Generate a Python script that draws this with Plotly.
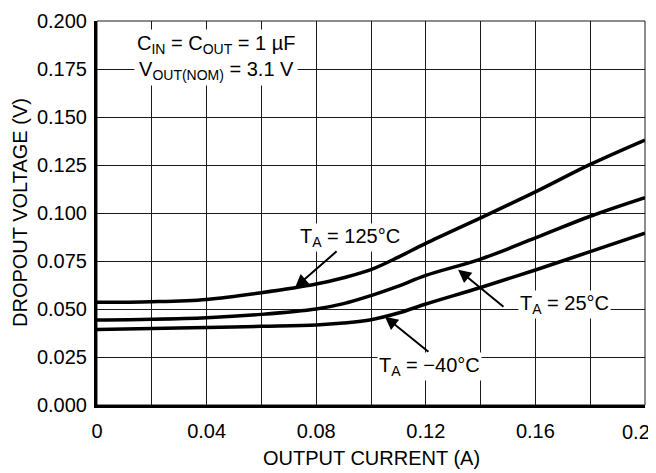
import plotly.graph_objects as go

# ---- data ----
current = [0.0, 0.02, 0.04, 0.06, 0.08, 0.09, 0.10, 0.11, 0.12, 0.14, 0.16, 0.18, 0.20]
v_125 = [0.0535, 0.0538, 0.0550, 0.0585, 0.0630, 0.0663, 0.0705, 0.0770, 0.0842, 0.0975, 0.1110, 0.1253, 0.1380]
v_25 = [0.0443, 0.0447, 0.0455, 0.0472, 0.0500, 0.0528, 0.0570, 0.0619, 0.0675, 0.0760, 0.0870, 0.0983, 0.1080]
v_m40 = [0.0393, 0.0398, 0.0404, 0.0410, 0.0417, 0.0427, 0.0444, 0.0479, 0.0526, 0.0612, 0.0703, 0.0799, 0.0895]

x_tickvals = [0.0, 0.04, 0.08, 0.12, 0.16, 0.20]
x_ticktext = ["0", "0.04", "0.08", "0.12", "0.16", "0.2"]
x_gridvals = [0.02, 0.06, 0.10, 0.14, 0.18]
y_tickvals = [0.0, 0.025, 0.05, 0.075, 0.1, 0.125, 0.15, 0.175, 0.2]
y_ticktext = ["0.000", "0.025", "0.050", "0.075", "0.100", "0.125", "0.150", "0.175", "0.200"]

FONT = "Liberation Sans, Arial, Helvetica, sans-serif"
FS = 20
GRID = "#1a1a1a"

fig = go.Figure()
for ys in (v_125, v_25, v_m40):
    fig.add_trace(go.Scatter(x=current, y=ys, mode="lines",
                             line=dict(color="black", width=3.5, shape="spline", smoothing=1.0),
                             showlegend=False, hoverinfo="skip"))

# the page body has an 8px margin, so the figure is sized/placed to compensate
fig.update_layout(
    width=648, height=465,
    margin=dict(l=89, r=11, t=13, b=68, autoexpand=False),
    paper_bgcolor="white", plot_bgcolor="white",
    font=dict(family=FONT, size=FS, color="black"),
    xaxis=dict(range=[0, 0.2], tickvals=x_tickvals[:-1], ticktext=x_ticktext[:-1],
               showgrid=True, gridcolor=GRID, gridwidth=1, automargin=False,
               minor=dict(tickvals=x_gridvals, showgrid=True, gridcolor=GRID, gridwidth=1, ticks=""),
               zeroline=False, showline=True, linecolor="black", linewidth=3,
               ticks="outside", ticklen=0, ticklabelstandoff=6,
               tickfont=dict(size=FS, family=FONT)),
    yaxis=dict(range=[0, 0.2], tickvals=y_tickvals, ticktext=y_ticktext,
               showgrid=True, gridcolor=GRID, gridwidth=1, automargin=False,
               zeroline=False, showline=True, linecolor="black", linewidth=3,
               ticks="outside", ticklen=0, ticklabelstandoff=3,
               tickfont=dict(size=FS, family=FONT)),
)

# thin frame on top/right
fig.add_shape(type="rect", xref="paper", yref="paper", x0=0, y0=0, x1=1, y1=1,
              line=dict(color=GRID, width=1), layer="below")

ann = []
# last x tick label, nudged left so it is not clipped at the page edge
ann.append(dict(text=x_ticktext[-1], x=x_tickvals[-1], y=0, xref="x", yref="paper",
                xanchor="center", yanchor="top", xshift=-9, yshift=-14,
                showarrow=False, font=dict(size=FS)))
# axis titles
ann.append(dict(text="OUTPUT CURRENT (A)", xref="paper", yref="paper", x=0.5, y=0,
                yanchor="middle", xanchor="center", yshift=-53, showarrow=False,
                font=dict(size=FS)))
ann.append(dict(text="DROPOUT VOLTAGE (V)", xref="paper", yref="paper", x=0, y=0.5,
                xanchor="center", yanchor="middle", xshift=-77, textangle=-90,
                showarrow=False, font=dict(size=FS)))
# condition box
ann.append(dict(text="C<sub>IN</sub> = C<sub>OUT</sub> = 1 \u00b5F<br>V<sub>OUT(NOM)</sub> = 3.1 V",
                x=0.0434, y=0.181, xref="x", yref="y", showarrow=False,
                bgcolor="white", borderpad=2, align="center", font=dict(size=FS)))
# curve labels
labels = [
    ("T<sub>A</sub> = 125\u00b0C", 0.0923, 0.0870),
    ("T<sub>A</sub> = 25\u00b0C", 0.1708, 0.0521),
    ("T<sub>A</sub> = \u221240\u00b0C", 0.1215, 0.0198),
]
for t, x, y in labels:
    ann.append(dict(text=t, x=x, y=y, xref="x", yref="y", showarrow=False,
                    bgcolor="white", borderpad=1, font=dict(size=FS)))
# arrows (head on curve, tail near label)
arrows = [
    (0.0723, 0.0612, 0.0880, 0.0807),
    (0.1318, 0.0705, 0.1489, 0.0505),
    (0.1051, 0.0460, 0.1215, 0.0271),
]
for hx, hy, tx, ty in arrows:
    ann.append(dict(text="", x=hx, y=hy, ax=tx, ay=ty, xref="x", yref="y",
                    axref="x", ayref="y", showarrow=True, arrowhead=2,
                    arrowsize=1.3, arrowwidth=2, arrowcolor="black", standoff=0))
fig.update_layout(annotations=ann)

fig.write_html("out.html")
